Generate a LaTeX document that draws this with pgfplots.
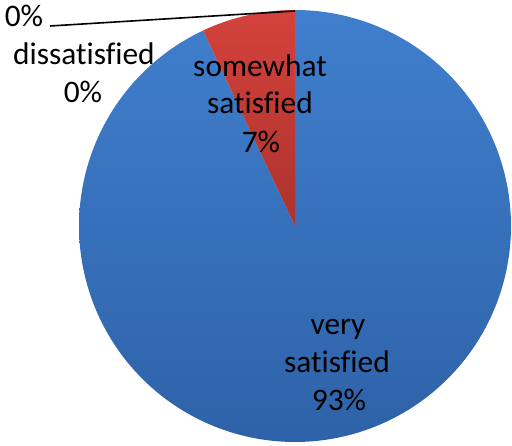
\documentclass[border=0pt]{standalone}
\usepackage{pgfplots}
\pgfplotsset{compat=1.18}
\usepackage{fontspec}
\setmainfont{Carlito}[Ligatures=NoCommon]
\definecolor{blueT}{RGB}{64,127,205}
\definecolor{blueB}{RGB}{46,98,168}
\definecolor{redT}{RGB}{212,66,60}
\definecolor{redB}{RGB}{172,50,45}
\tikzset{lbl/.style={font=\fontsize{31.5}{38}\selectfont, text=black, inner sep=0pt, anchor=base}}
% values (percent), clockwise from 12 o'clock
\def\vsat{93}
\def\ssat{7}
\def\dsat{0}
\pgfmathsetmacro{\aA}{90}
\pgfmathsetmacro{\aB}{90-3.6*\vsat}
\pgfmathsetmacro{\aC}{\aB-3.6*\ssat}
\begin{document}
\begin{tikzpicture}
\begin{axis}[x=1bp,y=1bp,xmin=0,xmax=512,ymin=0,ymax=446,
  hide axis, clip=false]
\path (rel axis cs:0,0) rectangle (rel axis cs:1,1);
% very satisfied
\addplot[draw=none, no marks, top color=blueT, bottom color=blueB, domain=\aB:\aA, samples=240]
  ({295+216*cos(x)},{220+216*sin(x)}) -- (axis cs:295,220) -- cycle;
% somewhat satisfied
\addplot[draw=none, no marks, top color=redT, bottom color=redB, domain=\aC:\aB, samples=30]
  ({295+216*cos(x)},{220+216*sin(x)}) -- (axis cs:295,220) -- cycle;
% leader line for dissatisfied
\addplot[black, line width=1.6bp, no marks] coordinates {(50,420) (295,435)};
\node[lbl] at (axis cs:24,419) {0\%};
\node[lbl] at (axis cs:84,381) {dissatisfied};
\node[lbl] at (axis cs:83,343) {0\%};
\node[lbl] at (axis cs:260,369) {somewhat};
\node[lbl] at (axis cs:260,332) {satisfied};
\node[lbl] at (axis cs:261,293) {7\%};
\node[lbl] at (axis cs:338,111) {very};
\node[lbl] at (axis cs:337,73) {satisfied};
\node[lbl] at (axis cs:339,35) {93\%};
\end{axis}
\end{tikzpicture}
\end{document}
